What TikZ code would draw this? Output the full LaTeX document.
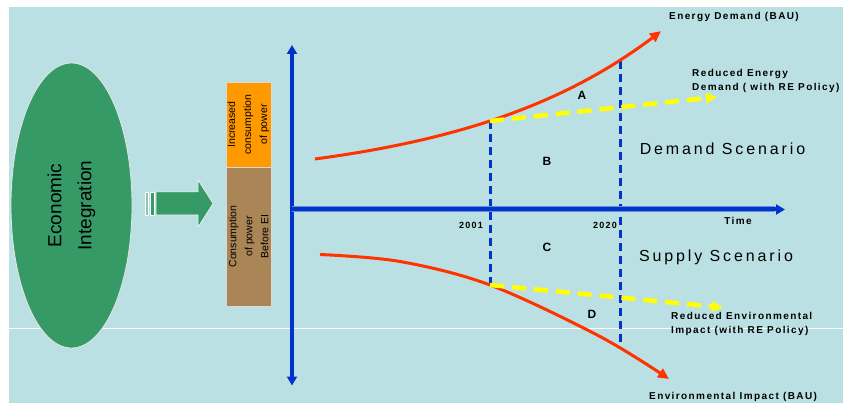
\documentclass[tikz,border=0pt]{standalone}
\usepackage{fontspec}
\setmainfont{Liberation Sans}
\newfontfamily\tagfont[LetterSpace=14]{Liberation Sans}
\newfontfamily\scenfont[LetterSpace=18]{Liberation Sans}
\usetikzlibrary{arrows.meta,shapes.geometric}

\begin{document}
\begin{tikzpicture}[x=1pt, y=-1pt, line join=round,
		% Styles
		axis/.style={draw=axisblue, line width=4pt},
		bau line/.style={draw=baured, line width=3pt, -{Triangle[length=11pt, width=10pt]}},
		policy line/.style={draw=policyyellow, line width=4.5pt, dash pattern=on 14pt off 8pt, -{Triangle[length=11pt, width=10pt]}},
		year line/.style={draw=axisblue, line width=3pt, dash pattern=on 8pt off 5pt},
		curve label/.style={font=\tagfont\bfseries\fontsize{10}{13.8}\selectfont, anchor=west, align=left, inner sep=0pt},
		year label/.style={font=\tagfont\bfseries\fontsize{9}{10}\selectfont, anchor=east, inner sep=0pt},
		region label/.style={font=\bfseries\fontsize{12}{14}\selectfont, inner sep=0pt},
		scenario label/.style={font=\scenfont\fontsize{16}{18}\selectfont, inner sep=0pt},
		power box/.style={rotate=90, draw=white!85!black, line width=0.8pt, minimum height=45pt, inner sep=0pt, align=center, font=\fontsize{10.5}{16}\selectfont}
		]
		
		% Colors
		\definecolor{bgblue}{RGB}{187,224,227}
		\definecolor{axisblue}{RGB}{0,51,204}
		\definecolor{baured}{RGB}{255,51,0}
		\definecolor{policyyellow}{RGB}{255,255,0}
		\definecolor{eigreen}{RGB}{54,154,102}
		\definecolor{incorange}{RGB}{255,153,0}
		\definecolor{basebrown}{RGB}{170,134,86}
		
		\useasboundingbox (0,0) rectangle (843,403);
		\fill[bgblue] (9,7) rectangle (843,403);
		\draw[white, line width=1pt] (9,328) -- (843,328);
		
		% Economic integration and block arrow
		\node[ellipse, rotate=90, fill=eigreen, draw=white!90!black, line width=0.8pt,
			minimum width=285pt, minimum height=121pt, inner sep=0pt, align=center,
			font=\fontsize{19}{30}\selectfont] (ei) at (71.5,205.5) {Economic\\Integration};
		\fill[eigreen!55!white, draw=white, line width=0.5pt] (145.5,192) rectangle (148.5,215);
		\fill[eigreen, draw=white, line width=0.5pt] (150,192) rectangle (154,215);
		\fill[eigreen, draw=white, line width=0.5pt] (156,192) -- (198,192) -- (198,180) -- (213,203.5)
			-- (198,227) -- (198,215) -- (156,215) -- cycle;
		
		% Consumption boxes
		\node[power box, fill=incorange, minimum width=85pt] (incr) at (248.5,124.5) {Increased\\consumption\\of power};
		\node[power box, fill=basebrown, minimum width=139pt] (before) at (248.5,236.5) {Consumption\\of power\\Before EI};
		
		% Key points
		\coordinate (o) at (292,209.5);
		\coordinate (ytop) at (292,45);
		\coordinate (ybot) at (292,385.5);
		\coordinate (tend) at (785,209.5);
		\coordinate (d01) at (490,121);
		\coordinate (d20) at (620,61);
		\coordinate (s01) at (490,285);
		\coordinate (s20) at (620,348);
		
		% Year lines
		\draw[year line] (d01) -- (s01);
		\draw[year line] (d20) -- (s20);
		
		% Axes
		\draw[axis, {Triangle[length=9pt, width=10pt]}-{Triangle[length=9pt, width=10pt]}] (ytop) -- (ybot);
		\draw[axisblue!45!bgblue, line width=6pt] (o) -- (775,209.5);
		\draw[axis, -{Triangle[length=9pt, width=10pt]}] (o) -- (tend);
		
		% Business as usual
		\draw[bau line] plot[domain=315:661, samples=50] (\x, {185.3-26.3*exp(0.005113*(\x-315))});
		\draw[bau line] plot[smooth, tension=0.55] coordinates {(320,254.5) (400,261.5) (s01) (600,336.5) (669,379)};
		
		% With RE policy
		\draw[policy line] (d01) -- (717,97);
		\draw[policy line] (s01) -- (723,307.5);
		
		% Labels
		\node[year label] (y2001) at (483,225) {2001};
		\node[year label] (y2020) at (617,225) {2020};
		\node[font=\tagfont\bfseries\fontsize{10}{12}\selectfont, inner sep=0pt] (time) at (738,221) {Time};
		\node[region label] (ra) at (582,95) {A};
		\node[region label] (rb) at (547,161) {B};
		\node[region label] (rc) at (547,247) {C};
		\node[region label] (rd) at (592,314) {D};
		\node[scenario label] (dscen) at (722.5,149) {Demand Scenario};
		\node[scenario label] (sscen) at (716,257) {Supply Scenario};
		\node[curve label] (lbau) at (669,17) {Energy Demand (BAU)};
		\node[curve label] (lred) at (692,81) {Reduced Energy\\Demand ( with RE Policy)};
		\node[curve label] (lrei) at (671,323.7) {Reduced Environmental\\Impact (with RE Policy)};
		\node[curve label] (lei) at (649,397) {Environmental Impact (BAU)};
		
	\end{tikzpicture}
\end{document}
